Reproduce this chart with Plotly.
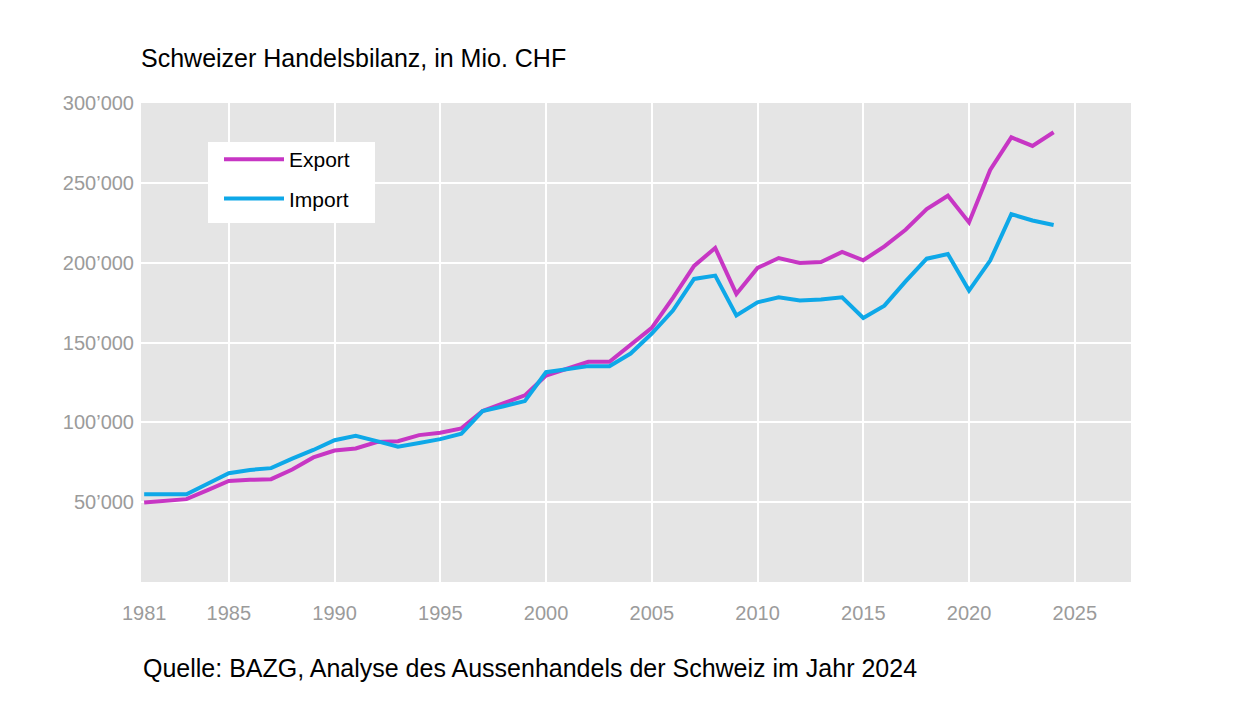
import plotly.graph_objects as go

years = list(range(1981, 2025))

export_values = [
    49800, 50800, 51900, 57500, 63300, 64000, 64400, 70400, 78000, 82300,
    83600, 87700, 88200, 92000, 93500, 96200, 107100, 112000, 116900, 129300,
    133600, 137900, 137900, 148500, 159200, 178000, 198000, 209200, 180400, 196700,
    202900, 199800, 200400, 206700, 201500, 210200, 220600, 233500, 241900, 225200,
    258100, 278500, 273100, 281700,
]

import_values = [
    55000, 55000, 55000, 61500, 68100, 70200, 71300, 77300, 82700, 88800,
    91500, 88200, 84800, 87000, 89500, 92900, 107000, 110100, 113300, 131400,
    133300, 135200, 135200, 143100, 155600, 170000, 189800, 191900, 166900, 175200,
    178300, 176300, 176900, 178300, 165400, 173100, 188300, 202500, 205400, 182500,
    201300, 230400, 226400, 223600,
]

x_tick_vals = [1981, 1985, 1990, 1995, 2000, 2005, 2010, 2015, 2020, 2025]
x_tick_text = [str(v) for v in x_tick_vals]
x_grid_vals = [1985, 1990, 1995, 2000, 2005, 2010, 2015, 2020, 2025]
y_tick_vals = [50000, 100000, 150000, 200000, 250000, 300000]
y_tick_text = ["50’000", "100’000", "150’000", "200’000", "250’000", "300’000"]

title_text = "Schweizer Handelsbilanz, in Mio. CHF"
source_text = "Quelle: BAZG, Analyse des Aussenhandels der Schweiz im Jahr 2024"

FONT = "Liberation Sans, Arial, Helvetica, sans-serif"
EXPORT_COLOR = "#c736c4"
IMPORT_COLOR = "#0ea8e8"
TICK_COLOR = "#9b9b9b"

# page body has an 8px margin; figure is sized so the plot lands at the same place
W, H = 1231, 708
ML, MT, MR, MB = 133, 95, 108, 134
PW, PH = W - ML - MR, H - MT - MB

fig = go.Figure()
fig.add_trace(go.Scatter(
    x=years, y=export_values, mode="lines", name="Export", legendgroup="e",
    line=dict(color=EXPORT_COLOR, width=4),
))
fig.add_trace(go.Scatter(
    x=years, y=import_values, mode="lines", name="Import", legendgroup="i",
    line=dict(color=IMPORT_COLOR, width=4),
))

# legend box (white panel behind the legend entries)
fig.add_shape(
    type="rect", xref="paper", yref="paper", layer="above",
    x0=67 / PW, x1=234 / PW, y0=(PH - 120) / PH, y1=(PH - 39) / PH,
    fillcolor="white", line=dict(width=0),
)

fig.update_layout(
    width=W, height=H,
    margin=dict(l=ML, r=MR, t=MT, b=MB),
    paper_bgcolor="white",
    plot_bgcolor="#e5e5e5",
    font=dict(family=FONT, color="black"),
    title=dict(
        text=title_text, x=0, xref="paper", xanchor="left",
        y=1 - 50 / H, yref="container", yanchor="middle",
        font=dict(family=FONT, size=25, color="black"),
    ),
    showlegend=True,
    legend=dict(
        x=78 / PW, y=(PH - 36) / PH, xanchor="left", yanchor="top",
        bgcolor="rgba(0,0,0,0)", borderwidth=0,
        font=dict(family=FONT, size=21, color="black"),
        itemwidth=60, tracegroupgap=9,
    ),
    annotations=[dict(
        text=source_text, x=0, xref="paper", xanchor="left",
        y=-(668 - 582) / PH, yref="paper", yanchor="middle",
        showarrow=False, font=dict(family=FONT, size=25, color="black"),
    )],
)

fig.update_xaxes(
    range=[1980.85, 1980.85 + PW / 21.15],
    tickmode="array", tickvals=x_tick_vals, ticktext=x_tick_text,
    showgrid=False, zeroline=False, showline=False,
    ticks="", ticklabelstandoff=17,
    tickfont=dict(family=FONT, size=20, color=TICK_COLOR),
    minor=dict(tickmode="array", tickvals=x_grid_vals, showgrid=True,
               gridcolor="white", gridwidth=2, ticks=""),
)
fig.update_yaxes(
    range=[0, 300000],
    tickmode="array", tickvals=y_tick_vals, ticktext=y_tick_text,
    showgrid=True, gridcolor="white", gridwidth=2,
    zeroline=False, showline=False, ticks="", ticklabelstandoff=6,
    tickfont=dict(family=FONT, size=20, color=TICK_COLOR),
)

fig.write_html("out.html")
